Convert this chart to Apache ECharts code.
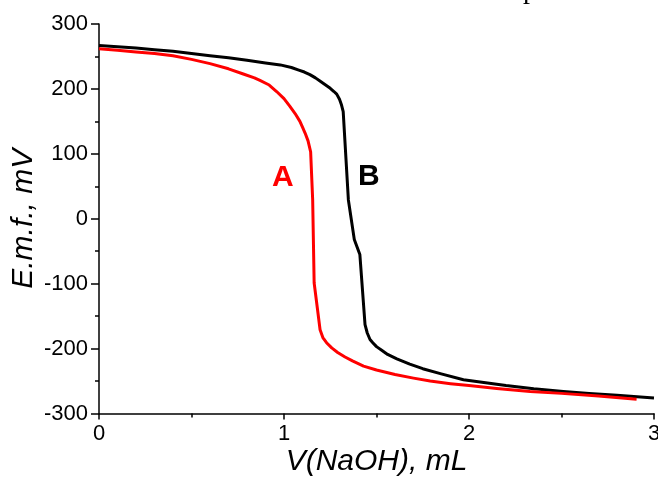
<!DOCTYPE html>
<html>
<head>
<meta charset="utf-8">
<script src="https://cdn.jsdelivr.net/npm/echarts@6/dist/echarts.min.js"></script>
<style>html,body{margin:0;padding:0;background:#fff;}#c{width:658px;height:479px;}</style>
</head>
<body>
<div id="c"></div>
<script>
// Curve A (red)
const xA = [0, 0.1, 0.2, 0.3, 0.4, 0.5, 0.6, 0.7, 0.78, 0.84, 0.87, 0.92, 0.96, 1.0, 1.032, 1.06, 1.086, 1.1, 1.114, 1.13, 1.144, 1.155, 1.163, 1.18, 1.195, 1.21, 1.23, 1.258, 1.29, 1.33, 1.37, 1.43, 1.5, 1.6, 1.7, 1.79, 1.9, 2.0, 2.15, 2.33, 2.5, 2.7, 2.906];
const yA = [262, 259.5, 257, 254.5, 251, 245.5, 239, 231, 223, 217, 213, 206, 196, 185, 173, 162, 150, 141, 132, 120, 103, 29, -99, -137, -171, -183, -191, -199, -206, -213, -219, -227, -233, -240, -245.5, -250, -254, -257, -261.5, -266, -269, -273, -278];
// Curve B (black)
const xB = [0, 0.1, 0.2, 0.3, 0.4, 0.5, 0.6, 0.7, 0.8, 0.9, 0.98, 1.04, 1.08, 1.11, 1.14, 1.17, 1.2, 1.225, 1.25, 1.27, 1.285, 1.3, 1.31, 1.32, 1.348, 1.38, 1.41, 1.438, 1.45, 1.465, 1.48, 1.5, 1.53, 1.56, 1.61, 1.68, 1.75, 1.85, 1.97, 2.1, 2.2, 2.35, 2.51, 2.65, 2.8, 3.0];
const yB = [267, 265, 263, 260.5, 258, 254.5, 251, 248, 244, 240, 237, 233, 229, 226, 222, 217, 211, 206, 201, 196, 192, 184, 176, 165, 29, -32, -55, -163, -176, -186, -191, -197, -203, -209, -216, -224, -231, -239, -248, -253, -257, -262, -266, -269, -272, -276];
const xTicks = [0, 1, 2, 3];
const yTicks = [-300, -200, -100, 0, 100, 200, 300];

const chart = echarts.init(document.getElementById('c'));
const font = '"Liberation Sans", Arial, sans-serif';
chart.setOption({
  animation: false,
  backgroundColor: '#fff',
  grid: { left: 99, right: 4, top: 24, bottom: 65.5, containLabel: false, outerBoundsMode: 'none' },
  xAxis: {
    type: 'value', min: xTicks[0], max: xTicks[xTicks.length - 1], interval: 1,
    name: 'V(NaOH), mL', nameLocation: 'middle', nameGap: 33, nameMoveOverlap: false,
    nameTextStyle: { fontFamily: font, fontSize: 30, fontStyle: 'italic', color: '#000' },
    axisLine: { onZero: false, lineStyle: { color: '#000', width: 1.5 } },
    axisTick: { show: true, inside: false, length: 6, lineStyle: { color: '#000', width: 1.5 } },
    minorTick: { show: true, splitNumber: 2, length: 4, lineStyle: { color: '#000', width: 1.5 } },
    axisLabel: { fontFamily: font, fontSize: 22, color: '#000', margin: 9 },
    splitLine: { show: false }
  },
  yAxis: {
    type: 'value', min: yTicks[0], max: yTicks[yTicks.length - 1], interval: 100,
    name: 'E.m.f., mV', nameLocation: 'middle', nameGap: 60, nameRotate: 90, nameMoveOverlap: false,
    nameTextStyle: { fontFamily: font, fontSize: 30, fontStyle: 'italic', color: '#000' },
    axisLine: { onZero: false, lineStyle: { color: '#000', width: 1.5 } },
    axisTick: { show: true, inside: false, length: 8, lineStyle: { color: '#000', width: 1.5 } },
    minorTick: { show: true, splitNumber: 2, length: 4, lineStyle: { color: '#000', width: 1.5 } },
    axisLabel: { fontFamily: font, fontSize: 22, color: '#000', margin: 11 },
    splitLine: { show: false }
  },
  series: [
    { type: 'line', name: 'B', data: xB.map((x, i) => [x, yB[i]]), showSymbol: false, smooth: false,
      lineStyle: { color: '#000', width: 3, join: 'round' }, z: 2 },
    { type: 'line', name: 'A', data: xA.map((x, i) => [x, yA[i]]), showSymbol: false, smooth: false,
      lineStyle: { color: '#ff0000', width: 3, join: 'round' }, z: 3 }
  ],
  graphic: [
    { type: 'text', left: 272, top: 163, style: { text: 'A', fill: '#ff0000', font: 'bold 30px ' + font } },
    { type: 'text', left: 358, top: 162, style: { text: 'B', fill: '#000', font: 'bold 30px ' + font } },
    { type: 'text', left: 523, top: -23, style: { text: 'p', fill: '#000', font: '28px "Liberation Serif", "Times New Roman", serif' } }
  ]
});
</script>
</body>
</html>
